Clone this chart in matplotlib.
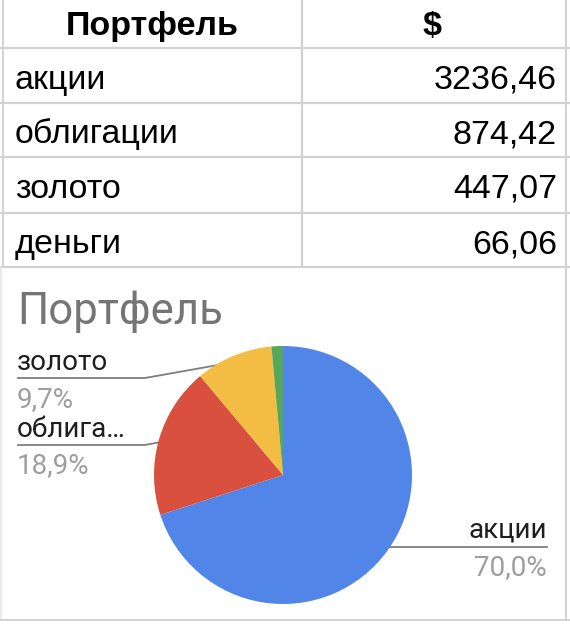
import numpy as np
import matplotlib.pyplot as plt

# ---- data ----
header = ["Портфель", "$"]
categories = ["акции", "облигации", "золото", "деньги"]
values = [3236.46, 874.42, 447.07, 66.06]
value_labels = ["3236,46", "874,42", "447,07", "66,06"]
chart_title = "Портфель"
pie_labels = ["акции", "облига…", "золото", None]
colors = ["#5185E8", "#D9503F", "#F2BD42", "#55A75A"]

W, H = 570, 625
fig = plt.figure(figsize=(W / 100, H / 100), dpi=100)
ov = fig.add_axes([0, 0, 1, 1])
ov.set_xlim(0, W)
ov.set_ylim(H, 0)
ov.axis("off")

# ---- table ----
grid = "#D2D2D2"
row_lines = [48, 103, 157, 213, 267]
x_left, x_mid, x_right = 3, 302, 566
for y in row_lines:
    ov.plot([0, W], [y, y], color=grid, lw=1.6, solid_capstyle="butt")
ov.plot([x_mid, x_mid], [0, row_lines[-1]], color=grid, lw=1.6)
ov.plot([x_left, x_left], [0, row_lines[-1]], color=grid, lw=1.4)
ov.plot([x_right, x_right], [0, H - 5], color=grid, lw=1.4)
ov.plot([1, 1], [row_lines[-1], H - 5], color="#E6E6E6", lw=1.2)
ov.plot([0, W], [H - 5, H - 5], color=grid, lw=1.4)

tfont = dict(family="Liberation Sans", fontsize=24.5, color="black")
ov.text((x_left + x_mid) / 2, 35, header[0], ha="center", va="baseline",
        fontweight="bold", **tfont)
ov.text((x_mid + x_right) / 2 - 2, 35, header[1], ha="center", va="baseline",
        fontweight="bold", **tfont)
for i, (c, v) in enumerate(zip(categories, value_labels)):
    y0, y1 = row_lines[i], row_lines[i + 1]
    yb = (y0 + y1) / 2 + 13
    ov.text(15, yb, c, ha="left", va="baseline", **tfont)
    ov.text(557, yb, v, ha="right", va="baseline", **tfont)

# ---- pie chart ----
ov.text(17, 324, chart_title, ha="left", va="baseline", family="Roboto",
        fontsize=31.5, color="#757575")

cx, cy, r = 283, 475, 129
pax = fig.add_axes([(cx - r) / W, (H - cy - r) / H, 2 * r / W, 2 * r / H])
pax.pie(values, colors=colors, startangle=90, counterclock=False, radius=1,
        wedgeprops=dict(linewidth=0))
pax.set_xlim(-1, 1)
pax.set_ylim(-1, 1)
pax.axis("off")

vals = np.array(values)
fracs = vals / vals.sum()
starts = np.concatenate([[0], np.cumsum(fracs)[:-1]])
mids = np.deg2rad(90 - 360 * (starts + fracs / 2))
dots_x = cx + 0.95 * r * np.cos(mids)
dots_y = cy - 0.95 * r * np.sin(mids)

lead = "#7E7E7E"
lfont = dict(family="Roboto", fontsize=20)
# label layout: (text baseline, line y, pct baseline, side)
layout = {
    0: (538, None, 575, "right"),
    1: (437, 445, 473, "left"),
    2: (370, 378, 407, "left"),
}
for i, (tb, ly, pb, side) in layout.items():
    lab = pie_labels[i]
    pct = f"{fracs[i] * 100:.1f}%".replace(".", ",")
    dx, dy = dots_x[i], dots_y[i]
    if side == "left":
        ov.plot([18, 145, dx], [ly, ly, dy], color=lead, lw=1.3)
        ov.text(17, tb, lab, ha="left", va="baseline", color="#1E1E1E", **lfont)
        ov.text(17, pb, pct, ha="left", va="baseline", color="#9E9E9E", **lfont)
    else:
        ov.plot([dx, 547], [dy, dy], color=lead, lw=1.3)
        ov.text(547, tb, lab, ha="right", va="baseline", color="#1E1E1E", **lfont)
        ov.text(547, pb, pct, ha="right", va="baseline", color="#9E9E9E", **lfont)
    ov.plot([dx], [dy], "o", ms=7.5, color="#9A9A9A", mec="none", zorder=5)

fig.savefig("out.png", dpi=100, facecolor="white")
